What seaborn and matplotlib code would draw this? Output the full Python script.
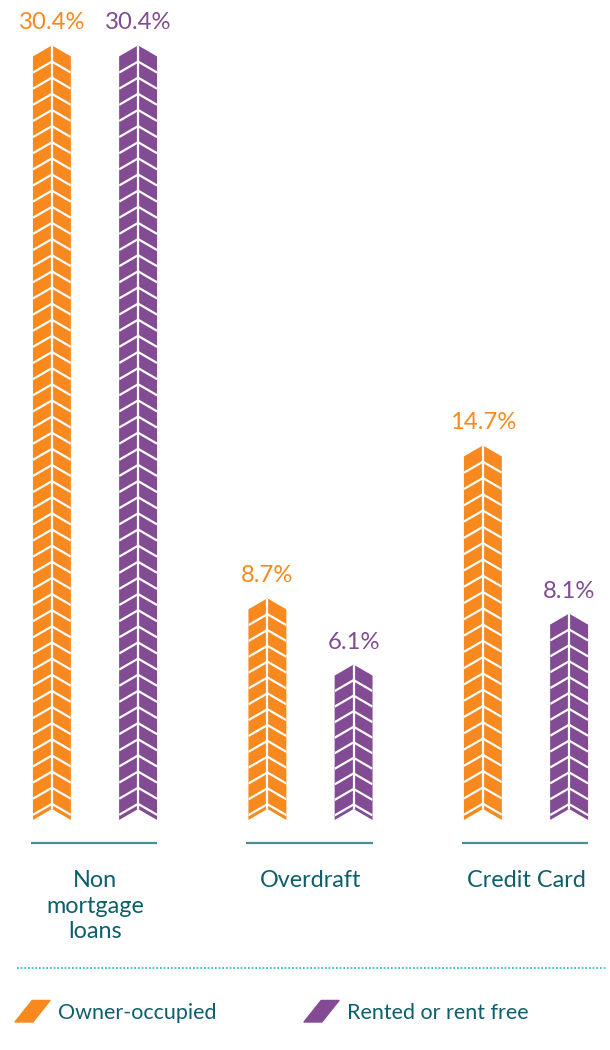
import numpy as np
import pandas as pd
import matplotlib
matplotlib.use("Agg")
import matplotlib.pyplot as plt
import matplotlib.patches as mpatches
from matplotlib.patches import Polygon
from matplotlib.collections import LineCollection
from matplotlib.legend_handler import HandlerPatch
from matplotlib.lines import Line2D
import seaborn as sns

# ---- data -------------------------------------------------------------
categories = ["Non\nmortgage\nloans", "Overdraft", "Credit Card"]
tenures = ["Owner-occupied", "Rented or rent free"]
owner_occupied = [30.4, 8.7, 14.7]
rented_or_rent_free = [30.4, 6.1, 8.1]

# ---- style ------------------------------------------------------------
ORANGE = "#F7891F"
PURPLE = "#824B93"
TEAL_TEXT = "#0D5F6B"
BASE_LINE = "#4A8E93"
DOTTED = "#22B2C6"

sns.set_theme(style="white")
plt.rcParams["font.family"] = ["Lato", "DejaVu Sans"]

W, H = 610, 1050
fig = plt.figure(figsize=(W / 100, H / 100), dpi=100)
fig.patch.set_facecolor("white")

# axes occupies the full width; zero line sits 30px above the axes bottom
ax_bottom_px, ax_top_px = 850, 30
ax = fig.add_axes([0, (H - ax_bottom_px) / H, 1, (ax_bottom_px - ax_top_px) / H])

df = pd.DataFrame({
    "category": categories * 2,
    "tenure": [tenures[0]] * len(categories) + [tenures[1]] * len(categories),
    "share": owner_occupied + rented_or_rent_free,
})

sns.barplot(data=df, x="category", y="share", hue="tenure",
            palette=[ORANGE, PURPLE], saturation=1, width=0.8, gap=0.56,
            errorbar=None, legend=False, ax=ax)

px_per_unit_x = 215.5
px_per_unit_y = 25.48
ax.set_xlim(-95 / px_per_unit_x, 2 + (W - 526) / px_per_unit_x)
ax.set_ylim(-30 / px_per_unit_y, (ax_bottom_px - ax_top_px - 30) / px_per_unit_y)

# ---- chevron bars -----------------------------------------------------
rise = 11 / px_per_unit_y      # height of each chevron point
step = 16 / px_per_unit_y      # spacing between stacked chevrons
bars = list(ax.patches)
groups = {}
for i, bar in enumerate(bars):
    x0, w, h = bar.get_x(), bar.get_width(), bar.get_height()
    color = bar.get_facecolor()
    bar.set_visible(False)
    x1, xc = x0 + w, x0 + w / 2

    shape = Polygon([(x0, 0), (xc, rise), (x1, 0), (x1, h - rise), (xc, h), (x0, h - rise)],
                    closed=True, facecolor=color, edgecolor="none", zorder=2)
    ax.add_patch(shape)

    n = max(1, int(round(h / step)))
    s = h / n
    segs = [[(x0, h - k * s - rise), (xc, h - k * s), (x1, h - k * s - rise)] for k in range(1, n)]
    segs.append([(xc, 0), (xc, h)])
    lc = LineCollection(segs, colors="white", linewidths=1.6, zorder=3,
                        capstyle="butt", joinstyle="miter")
    ax.add_collection(lc)
    lc.set_clip_path(shape)

    ax.annotate(f"{h:.1f}%", (xc, h), xytext=(0, 11.5), textcoords="offset points",
                ha="center", va="baseline", color=color, fontsize=17.2)

    cat = i % len(categories)
    groups.setdefault(cat, []).extend([x0, x1])

# teal baseline under each group
for cat, xs in groups.items():
    ax.plot([min(xs) - 0.01, max(xs)], [-23 / px_per_unit_y] * 2,
            color=BASE_LINE, lw=1.6, solid_capstyle="butt", zorder=1)

for sp in ax.spines.values():
    sp.set_visible(False)
ax.set_yticks([])
ax.set_xlabel("")
ax.set_ylabel("")
ax.tick_params(axis="x", length=0, pad=14.5, labelsize=16.8, labelcolor=TEAL_TEXT)
for lab in ax.get_xticklabels():
    lab.set_linespacing(1.27)

# dotted separator
fig.add_artist(Line2D([17 / W, 607 / W], [1 - 968 / H] * 2, transform=fig.transFigure,
                      color=DOTTED, lw=1.2, linestyle=(0, (1, 1.2))))


# ---- legend with slanted swatches --------------------------------------
class SlantHandler(HandlerPatch):
    def create_artists(self, legend, orig_handle, xdescent, ydescent,
                       width, height, fontsize, trans):
        x, y = -xdescent, -ydescent
        verts = [(x, y), (x + 0.51 * width, y), (x + width, y + height), (x + 0.49 * width, y + height)]
        p = Polygon(verts, closed=True, facecolor=orig_handle.get_facecolor(),
                    edgecolor=orig_handle.get_facecolor(), lw=1.0, joinstyle="round",
                    transform=trans)
        return [p]


fs = 15.5
fs_px = fs * 100 / 72
for label, color, x_left in [(tenures[0], ORANGE, 15), (tenures[1], PURPLE, 304)]:
    handle = mpatches.Patch(facecolor=color, label=label)
    fig.legend(handles=[handle], loc="center left",
               bbox_to_anchor=(x_left / W, 1 - 1011.5 / H),
               frameon=False, fontsize=fs, labelcolor=TEAL_TEXT,
               handlelength=35 / fs_px, handleheight=25 / fs_px,
               handletextpad=8 / fs_px, borderpad=0, borderaxespad=0,
               handler_map={mpatches.Patch: SlantHandler()})

fig.savefig("out.png", dpi=100, facecolor="white")
